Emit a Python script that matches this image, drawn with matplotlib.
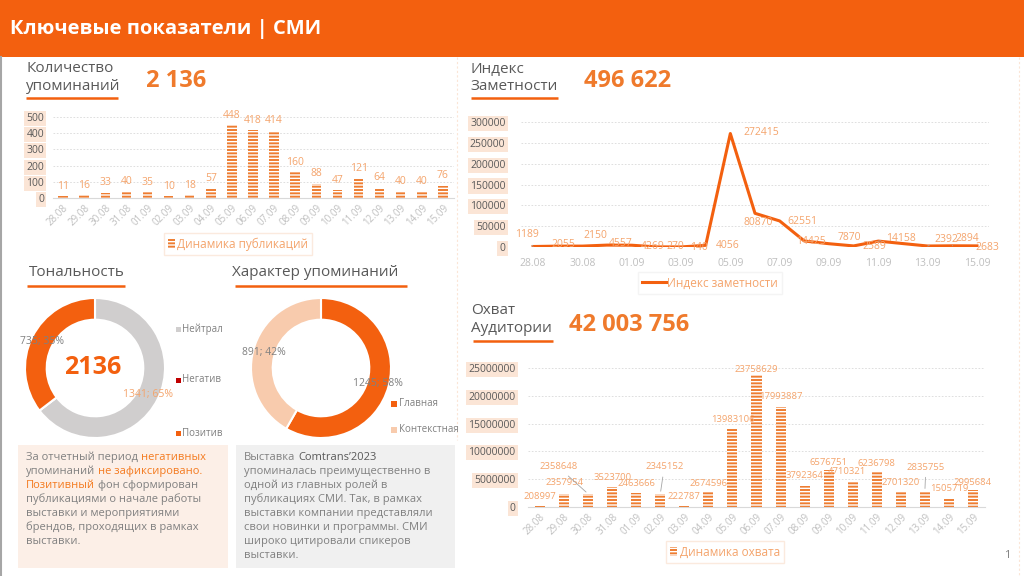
import numpy as np
import matplotlib
matplotlib.use('Agg')
import matplotlib.pyplot as plt
from matplotlib.patches import Rectangle

plt.rcParams['font.family'] = ['Open Sans', 'DejaVu Sans']
plt.rcParams['hatch.linewidth'] = 1.0

# ---- data ----
dates = ['28.08', '29.08', '30.08', '31.08', '01.09', '02.09', '03.09', '04.09', '05.09',
         '06.09', '07.09', '08.09', '09.09', '10.09', '11.09', '12.09', '13.09', '14.09', '15.09']
mentions = [11, 16, 33, 40, 35, 10, 18, 57, 448, 418, 414, 160, 88, 47, 121, 64, 40, 40, 76]
visibility = [1189, 2055, 2150, 4557, 4269, 270, 140, 4056, 272415, 80870, 62551,
              14425, 7870, 2589, 14158, 8200, 2392, 2894, 2683]
visibility_shown = [True] * 15 + [False] + [True] * 3
reach = [208997, 2357954, 2358648, 3523700, 2463666, 2345152, 222787, 2674596, 13983106,
         23758629, 17993887, 3792364, 6576751, 4710321, 6236798, 2701320, 2835755, 1505719, 2995684]
tone_names = ['Нейтрал', 'Негатив', 'Позитив']
tone_values = [1341, 0, 735]
tone_center = '2136'
kind_names = ['Главная', 'Контекстная']
kind_values = [1245, 891]
total_mentions = '2 136'
total_visibility = '496 622'
total_reach = '42 003 756'

left_note = [
    [('За отчетный период ', 'g'), ('негативных', 'o')],
    [('упоминаний ', 'g'), ('не зафиксировано.', 'o')],
    [('Позитивный', 'o'), (' фон сформирован', 'g')],
    [('публикациями о начале работы', 'g')],
    [('выставки и мероприятиями', 'g')],
    [('брендов, проходящих в рамках', 'g')],
    [('выставки.', 'g')],
]
right_note = [
    [('Выставка ', 'g'), ('Comtrans’2023', 'd')],
    [('упоминалась преимущественно в', 'g')],
    [('одной из главных ролей в', 'g')],
    [('публикациях СМИ. Так, в рамках', 'g')],
    [('выставки компании представляли', 'g')],
    [('свои новинки и программы. СМИ', 'g')],
    [('широко цитировали спикеров', 'g')],
    [('выставки.', 'g')],
]

# label offsets in pixels (style only)
vis_offsets = [(-6, 12), (6, 2), (13, 11), (14, 2), (21, -1), (19, 0), (18, -1), (22, 0), (31, 1),
               (3, -9), (23, -1), (7, -1), (20, 6), (21, -1), (23, 3), (0, 0), (19, 7), (15, 7), (10, -2)]
vis_leader = [0, 14, 16, 17]
reach_offsets = [(0, 9), (0, 11), (-30, 27), (0, 10), (0, 10), (4, 27), (0, 9), (0, 9), (0, 10),
                 (0, 5), (0, 10), (0, 10), (0, 8), (-6, 9), (0, 9), (0, 9), (1, 24), (0, 10), (0, 8)]
reach_leader = [2, 5, 16]

# ---- colours ----
HEAD = '#F3600F'
BAR = '#EE7D31'
LBL = '#F4A46C'
NUM = '#EF7A2C'
PEACH = '#FBE5D6'
GRID = '#D9D9D9'
XT = '#BFBFBF'
TITLE = '#595959'
TXT = '#808080'
HIL = '#F47A1F'

W, H = 1024, 576
fig = plt.figure(figsize=(W / 100, H / 100), dpi=100)
bg = fig.add_axes([0, 0, 1, 1])
bg.set_xlim(0, W)
bg.set_ylim(H, 0)
bg.axis('off')


def px_axes(x0, y0, x1, y1):
    ax = fig.add_axes([x0 / W, 1 - y1 / H, (x1 - x0) / W, (y1 - y0) / H])
    ax.patch.set_alpha(0)
    return ax


def style_axes(ax, ypad):
    for s in ['top', 'right', 'left']:
        ax.spines[s].set_visible(False)
    ax.spines['bottom'].set_color(GRID)
    ax.grid(axis='y', color=GRID, linestyle=(0, (2, 2)), linewidth=0.6)
    ax.set_axisbelow(True)
    ax.tick_params(length=0)
    ax.tick_params(axis='y', pad=ypad, labelsize=7.5, labelcolor=TITLE)
    for lab in ax.get_yticklabels():
        lab.set_bbox(dict(boxstyle='square,pad=0.2', fc=PEACH, ec='none'))


# ---- header and frame ----
bg.add_patch(Rectangle((0, 0), W, 57, color=HEAD, lw=0))
bg.text(10, 29, 'Ключевые показатели | СМИ', color='white', fontsize=14.5,
        fontweight='bold', va='center')
bg.plot([1, 1], [57, H], color='#A6A6A6', lw=1.5)
bg.plot([457, 457], [57, 440], color=PEACH, lw=0.8, ls=(0, (2, 2)))
bg.plot([1019, 1019], [57, H], color=PEACH, lw=0.8, ls=(0, (2, 2)))
bg.text(1007, 556, '1', color=TXT, fontsize=8, ha='center', va='center')


def section(x, lines, ys, ux0, ux1, uy, number=None, nx=None, ny=None):
    for line, y in zip(lines, ys):
        bg.text(x, y, line, fontsize=11, color=TITLE, va='center')
    bg.plot([ux0, ux1], [uy, uy], color=HEAD, lw=1.8, solid_capstyle='butt')
    if number:
        bg.text(nx, ny, number, fontsize=17, fontweight='bold', color=NUM, va='center')


section(26, ['Количество', 'упоминаний'], [69, 86], 26, 118, 97.5, total_mentions, 146, 81)
section(470, ['Индекс', 'Заметности'], [69, 86], 471, 558, 97.5, total_visibility, 584, 81)
section(471, ['Охват', 'Аудитории'], [311, 329], 473, 553, 341, total_reach, 569, 325)
section(29, ['Тональность'], [273], 27, 125, 286)
section(232, ['Характер упоминаний'], [273], 235, 407, 286)

# ---- mentions bar chart ----
x = np.arange(len(dates))
ax1 = px_axes(52.5, 110.5, 453.5, 198)
b1 = ax1.bar(x, mentions, width=0.45, color=BAR, edgecolor='white', hatch='-----',
             linewidth=0, label='Динамика публикаций')
ax1.set_xlim(-0.5, len(dates) - 0.5)
ax1.set_ylim(0, 540)
ax1.set_yticks([0, 100, 200, 300, 400, 500])
ax1.set_xticks(x)
ax1.set_xticklabels(dates, rotation=45, ha='right', rotation_mode='anchor', fontsize=7, color=XT)
style_axes(ax1, 6)
for i, v in enumerate(mentions):
    ax1.annotate(str(v), (i, v), xytext=(0, 10), textcoords='offset pixels',
                 ha='center', va='center', fontsize=7.5, color=LBL)
lg = fig.legend(handles=[b1], loc='center', bbox_to_anchor=(238 / W, 1 - 244 / H),
                fontsize=8.5, frameon=True, fancybox=False, handlelength=0.6,
                handletextpad=0.2, borderpad=0.35, labelcolor=LBL)
lg.get_frame().set_edgecolor(PEACH)

# ---- visibility line chart ----
ax2 = px_axes(520.7, 113.7, 989.3, 247)
ln, = ax2.plot(x, visibility, color=HEAD, lw=2.2, label='Индекс заметности',
               solid_joinstyle='round')
ax2.set_xlim(-0.5, len(dates) - 0.5)
ax2.set_ylim(0, 320000)
ax2.set_yticks(np.arange(0, 300001, 50000))
ax2.set_yticklabels([str(v) for v in range(0, 300001, 50000)])
ax2.set_xticks(x[::2])
ax2.set_xticklabels(dates[::2], fontsize=7.5, color=XT)
ax2.tick_params(axis='x', pad=8)
style_axes(ax2, 11)
ax2.spines['bottom'].set_visible(False)
for i, v in enumerate(visibility):
    if not visibility_shown[i]:
        continue
    arrow = dict(arrowstyle='-', color='#A6A6A6', lw=0.6) if i in vis_leader else None
    ax2.annotate(str(v), (i, v), xytext=vis_offsets[i], textcoords='offset pixels',
                 ha='center', va='center', fontsize=7.5, color=LBL, arrowprops=arrow)
lg2 = fig.legend(handles=[ln], loc='center', bbox_to_anchor=(710 / W, 1 - 283 / H),
                 fontsize=8.5, frameon=True, fancybox=False, handlelength=2.0,
                 handletextpad=0.1, borderpad=0.35, labelcolor=LBL)
lg2.get_frame().set_edgecolor('#F2F2F2')

# ---- reach bar chart ----
ax3 = px_axes(528, 359.7, 985, 507)
b3 = ax3.bar(x, reach, width=0.42, color=BAR, edgecolor='white', hatch='-----',
             linewidth=0, label='Динамика охвата')
ax3.set_xlim(-0.5, len(dates) - 0.5)
ax3.set_ylim(0, 26500000)
ax3.set_yticks(np.arange(0, 25000001, 5000000))
ax3.set_yticklabels([str(v) for v in range(0, 25000001, 5000000)])
ax3.set_xticks(x)
ax3.set_xticklabels(dates, rotation=45, ha='right', rotation_mode='anchor', fontsize=7, color=XT)
style_axes(ax3, 9)
for i, v in enumerate(reach):
    arrow = dict(arrowstyle='-', color='#A6A6A6', lw=0.6) if i in reach_leader else None
    ax3.annotate(str(v), (i, v), xytext=reach_offsets[i], textcoords='offset pixels',
                 ha='center', va='center', fontsize=6.8, color=LBL, arrowprops=arrow)
lg3 = fig.legend(handles=[b3], loc='center', bbox_to_anchor=(725 / W, 1 - 552 / H),
                 fontsize=8.5, frameon=True, fancybox=False, handlelength=0.6,
                 handletextpad=0.2, borderpad=0.35, labelcolor=LBL)
lg3.get_frame().set_edgecolor(PEACH)


# ---- donuts ----
def donut(cx, cy, values, colors, label_colors):
    r = 70
    ax = px_axes(cx - r, cy - r, cx + r, cy + r)
    total = sum(values)
    wedges, _, autos = ax.pie(values, colors=colors, startangle=90, counterclock=False,
                              wedgeprops=dict(width=0.31, edgecolor='white', linewidth=1.5),
                              autopct=lambda p: '' if p < 0.5 else f'{round(p * total / 100)}; {p:.0f}%',
                              pctdistance=0.845, textprops=dict(fontsize=7.5))
    for t, c in zip(autos, label_colors):
        t.set_color(c)
    ax.set_xlim(-1.0, 1.0)
    ax.set_ylim(-1.0, 1.0)
    return ax


donut(95, 368, tone_values, ['#D0CECE', '#C00000', HEAD], [LBL, TXT, TXT])
bg.text(93, 368, tone_center, fontsize=18, fontweight='bold', color=HEAD,
        ha='center', va='center')
for name, c, y in zip(tone_names, ['#D0CECE', '#C00000', HEAD], [329, 380, 433]):
    bg.add_patch(Rectangle((176, y - 2.5), 5, 5, color=c, lw=0))
    bg.text(182, y, name, fontsize=7, color=TXT, va='center')

donut(321, 368, kind_values, [HEAD, '#F8CBAD'], [TXT, TXT])
for name, c, y in zip(kind_names, [HEAD, '#F8CBAD'], [404, 430]):
    bg.add_patch(Rectangle((391, y - 3), 6, 6, color=c, lw=0))
    bg.text(399, y, name, fontsize=7, color=TXT, va='center')

# ---- comment boxes ----
bg.add_patch(Rectangle((18, 445), 210, 123, color='#FCEFE7', lw=0))
bg.add_patch(Rectangle((236, 445), 219, 123, color='#F0F0F0', lw=0))

renderer = fig.canvas.get_renderer()
run_colors = {'g': TXT, 'o': HIL, 'd': '#595959'}


def text_w(s):
    t = bg.text(0, 0, s, fontsize=8)
    w = t.get_window_extent(renderer).width
    t.remove()
    return w


space_w = text_w('н н') - text_w('нн')


def rich(x0, y0, lines, step):
    for k, runs in enumerate(lines):
        xx = x0
        y = y0 + k * step
        for s, c in runs:
            lead = len(s) - len(s.lstrip(' '))
            trail = len(s) - len(s.rstrip(' '))
            xx += lead * space_w
            core = s.strip(' ')
            t = bg.text(xx, y, core, fontsize=8, color=run_colors[c], va='center')
            xx += t.get_window_extent(renderer).width + trail * space_w


rich(26, 457, left_note, 14.1)
rich(244, 457, right_note, 14.1)

fig.savefig('out.png', dpi=100)
